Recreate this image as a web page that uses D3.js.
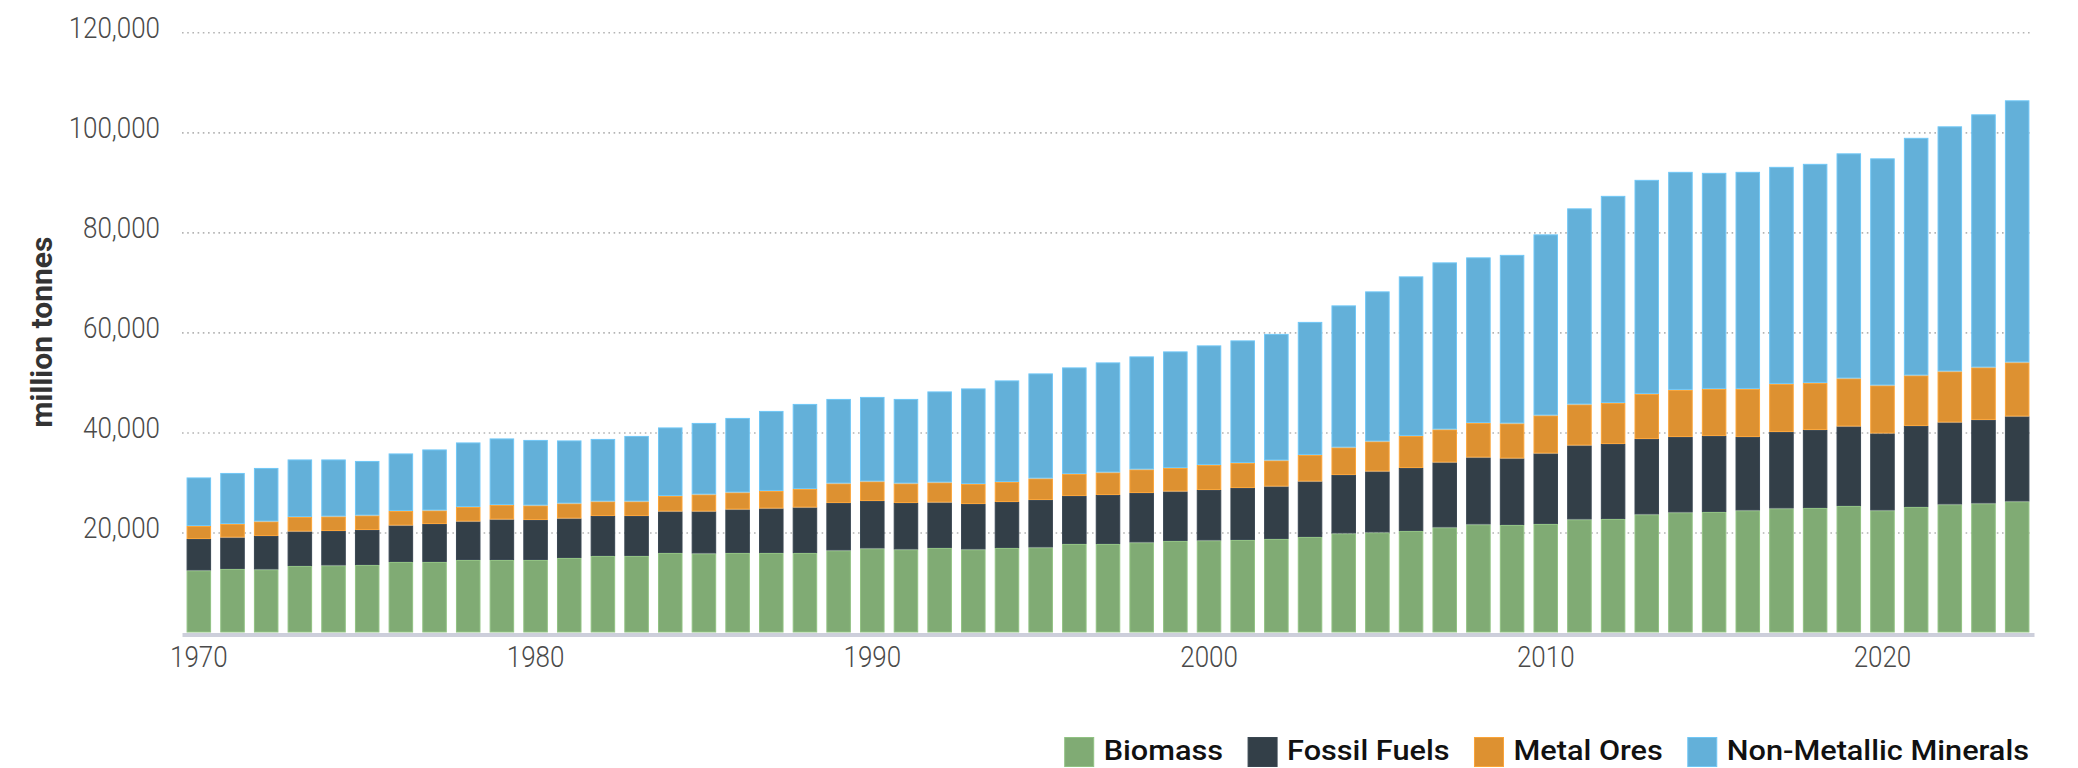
<!DOCTYPE html>
<html>
<head>
<meta charset="utf-8">
<script src="https://cdn.jsdelivr.net/npm/d3@7"></script>
<style>
  html, body { margin: 0; padding: 0; background: #fff; }
  svg { display: block; }
</style>
</head>
<body>
<svg id="chart" width="2078" height="768"></svg>
<script>
// ---- data (million tonnes) ----
const years = d3.range(1970, 2025);
const biomass = [12400,12700,12600,13300,13400,13500,14100,14100,14500,14500,
  14500,14900,15300,15300,15900,15800,15900,15900,15900,16400,
  16800,16600,16900,16600,16900,17000,17700,17700,18000,18300,
  18400,18500,18700,19100,19800,20000,20300,21000,21600,21500,
  21700,22600,22700,23600,24000,24100,24400,24800,24900,25300,
  24400,25100,25600,25800,26200];
const fossilFuels = [6300,6300,6700,6900,6900,7000,7300,7600,7700,8100,
  8000,7900,8000,8000,8300,8400,8700,8900,9100,9500,
  9500,9300,9100,9100,9200,9500,9600,9800,9900,9900,
  10100,10400,10500,11100,11700,12200,12600,13000,13400,13300,
  14100,14800,15000,15100,15100,15200,14700,15300,15600,15900,
  15400,16200,16400,16700,17000];
const metalOres = [2600,2700,2900,2900,2900,2900,2900,2700,2900,2900,
  2900,3000,2900,2900,3100,3400,3400,3500,3700,3900,
  3900,3900,4000,4000,4000,4300,4400,4500,4700,4700,
  5000,5000,5200,5300,5500,6000,6400,6600,6900,7000,
  7600,8200,8200,9000,9400,9400,9600,9600,9400,9600,
  9600,10100,10200,10500,10800];
const nonMetallicMinerals = [9700,10200,10700,11500,11400,10900,11500,12200,12900,13300,
  13100,12600,12500,13100,13700,14300,14900,16000,17000,16900,
  16900,16900,18200,19100,20300,21000,21300,22000,22600,23300,
  23900,24500,25300,26600,28400,30000,31900,33400,33100,33700,
  36200,39200,41400,42800,43600,43200,43400,43400,43800,45000,
  45400,47500,49000,50600,52400];
const seriesNames = ["Biomass", "Fossil Fuels", "Metal Ores", "Non-Metallic Minerals"];
const seriesColors = ["#80ab74", "#333f48", "#dd9131", "#63b0d9"];
const yTickValues = [20000, 40000, 60000, 80000, 100000, 120000];
const xTickYears = [1970, 1980, 1990, 2000, 2010, 2020];
const yTitle = "million tonnes";

// ---- build table ----
const rows = years.map((yr, i) => ({
  year: yr,
  "Biomass": biomass[i],
  "Fossil Fuels": fossilFuels[i],
  "Metal Ores": metalOres[i],
  "Non-Metallic Minerals": nonMetallicMinerals[i]
}));
const stacked = d3.stack().keys(seriesNames)(rows);

const svg = d3.select("#chart");
const plotLeft = 182, plotRight = 2034, plotTop = 32.3, plotBottom = 632.5;

const x = d3.scaleBand().domain(years).range([plotLeft, plotRight]).paddingInner(0.272).paddingOuter(0.136);
const y = d3.scaleLinear().domain([0, 120000]).range([plotBottom, plotTop]);
const color = d3.scaleOrdinal().domain(seriesNames).range(seriesColors);

function condense(sel, k) {
  sel.each(function () {
    const w = this.getComputedTextLength();
    d3.select(this).attr("textLength", w * k).attr("lengthAdjust", "spacingAndGlyphs");
  });
}

// ---- y grid + labels ----
const yAxis = svg.append("g")
  .attr("transform", `translate(${plotLeft},0)`)
  .call(d3.axisLeft(y).tickValues(yTickValues).tickFormat(d3.format(",")).tickSize(-(2033 - plotLeft)).tickPadding(22));
yAxis.select(".domain").remove();
yAxis.selectAll(".tick line")
  .attr("stroke", "#b4b4b4").attr("stroke-width", 1.6).attr("stroke-dasharray", "1.6,3.6");
yAxis.selectAll(".tick text")
  .attr("font-family", "Roboto, 'Noto Sans', sans-serif")
  .attr("font-weight", 300)
  .attr("font-size", 30)
  .attr("fill", "#4a4a4a")
  .attr("dy", "0.18em")
  .call(condense, 0.865);

// ---- bars ----
const layer = svg.append("g").selectAll("g").data(stacked).join("g")
  .attr("fill", d => color(d.key))
  .attr("stroke", d => d3.color(color(d.key)).brighter(0.35))
  .attr("stroke-width", 1);
layer.selectAll("rect").data(d => d).join("rect")
  .attr("x", d => x(d.data.year) + 0.5)
  .attr("width", x.bandwidth() - 1)
  .attr("y", d => y(d[1]) + 0.5)
  .attr("height", d => Math.max(0, y(d[0]) - y(d[1]) - 1));

// ---- x axis ----
const xAxis = svg.append("g")
  .attr("transform", `translate(0,${plotBottom + 2})`)
  .call(d3.axisBottom(x).tickValues(xTickYears).tickSize(0).tickSizeOuter(0));
xAxis.select(".domain").attr("stroke", "#cdcfdb").attr("stroke-width", 4);
xAxis.selectAll(".tick text")
  .attr("font-family", "Roboto, 'Noto Sans', sans-serif")
  .attr("font-weight", 300)
  .attr("font-size", 30)
  .attr("fill", "#4a4a4a")
  .attr("y", 32.5).attr("dy", "0")
  .call(condense, 0.865);

// ---- y title ----
svg.append("text")
  .attr("transform", "translate(41,332) rotate(-90)")
  .attr("text-anchor", "middle")
  .attr("dominant-baseline", "central")
  .attr("font-family", "Roboto, 'Noto Sans', sans-serif")
  .attr("font-weight", 700)
  .attr("font-size", 30)
  .attr("fill", "#333")
  .text(yTitle);

// ---- legend ----
const legend = svg.append("g");
const items = legend.selectAll("g").data(seriesNames).join("g");
items.append("rect").attr("width", 29).attr("height", 29).attr("y", 737.5)
  .attr("fill", d => color(d)).attr("stroke", d => d3.color(color(d)).brighter(0.35)).attr("stroke-width", 1);
items.append("text")
  .attr("y", 760)
  .attr("font-family", "Roboto, 'Noto Sans', sans-serif")
  .attr("font-weight", 500)
  .attr("font-size", 28)
  .attr("fill", "#111")
  .text(d => d);
// stretch legend labels slightly to the reference's wider face
const widths = [];
items.select("text").each(function () {
  const w = this.getComputedTextLength() * 1.095;
  d3.select(this).attr("textLength", w).attr("lengthAdjust", "spacingAndGlyphs");
  widths.push(w);
});
const gapSw = 10, gapItem = 25, sw = 29;
const total = d3.sum(widths) + seriesNames.length * (sw + gapSw) + (seriesNames.length - 1) * gapItem;
let cx = 2029 - total;
items.each(function (d, i) {
  const g = d3.select(this);
  g.select("rect").attr("x", cx);
  g.select("text").attr("x", cx + sw + gapSw);
  cx += sw + gapSw + widths[i] + gapItem;
});
</script>
</body>
</html>
